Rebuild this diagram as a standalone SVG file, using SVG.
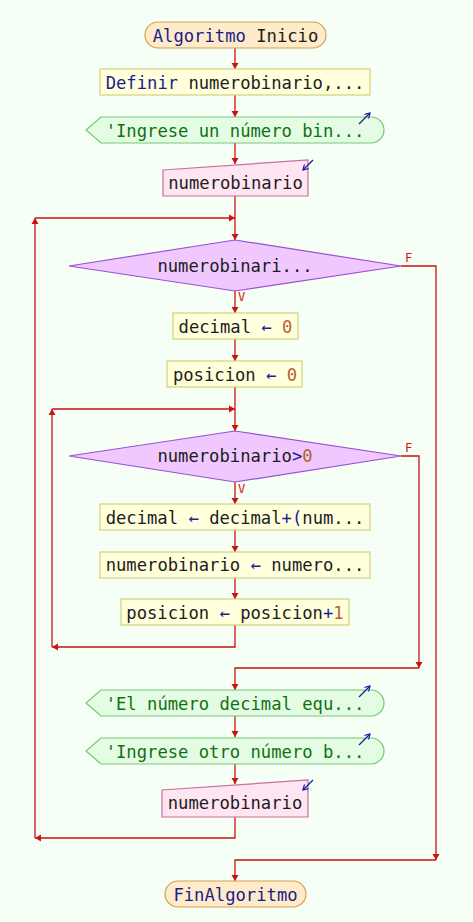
<svg xmlns="http://www.w3.org/2000/svg" width="473" height="922" viewBox="0 0 473 922">
<defs>
<style>
text{font-family:"DejaVu Sans Mono","Liberation Mono",monospace;font-size:17.2px;fill:#1c1c1c}
.term{fill:#fdebc9;stroke:#d4a050;stroke-width:1.2}
.proc{fill:#ffffdc;stroke:#d2d27a;stroke-width:1.2}
.out{fill:#e4fce4;stroke:#74c874;stroke-width:1.2}
.in{fill:#ffe4f2;stroke:#c8709c;stroke-width:1.2}
.dec{fill:#f0c8ff;stroke:#9a50d0;stroke-width:1.2}
.kw{fill:#1c1c8c}
.op{fill:#1c1c9c}
.num{fill:#b4642c}
.str{fill:#127012}
.lbl{fill:#dd1111;font-size:12px}
.icon{stroke:#1c1ca0;stroke-width:1.2;fill:none}
#connectors path{fill:none;stroke:#cc1111;stroke-width:1.3}
</style>
<marker id="ah" viewBox="0 0 6 8" refX="6" refY="4" markerWidth="6" markerHeight="8" markerUnits="userSpaceOnUse" orient="auto">
<path d="M0,0.5 L6,4 L0,7.5 z" fill="#cc1111"/>
</marker>
<marker id="ih" viewBox="0 0 6 6" refX="5" refY="3" markerWidth="6" markerHeight="6" markerUnits="userSpaceOnUse" orient="auto">
<path d="M0,0 L5,3 L0,6" fill="none" stroke="#1c1ca0" stroke-width="1.2"/>
</marker>
</defs>
<rect width="473" height="922" fill="#f6fff6"/>

<g id="connectors">
<path d="M235,48 V69" marker-end="url(#ah)"/>
<path d="M235,95 V117" marker-end="url(#ah)"/>
<path d="M235,143 V164" marker-end="url(#ah)"/>
<path d="M235,196 V240" marker-end="url(#ah)"/>
<path d="M235,817 V838 H35" marker-end="url(#ah)"/>
<path d="M35,838 V218" marker-end="url(#ah)"/>
<path d="M35,218 H235" marker-end="url(#ah)"/>
<path d="M235,291 V313" marker-end="url(#ah)"/>
<path d="M401,266 H436 V860" marker-end="url(#ah)"/>
<path d="M436,860 H235 V881" marker-end="url(#ah)"/>
<path d="M235,339 V361" marker-end="url(#ah)"/>
<path d="M235,387 V431" marker-end="url(#ah)"/>
<path d="M235,625 V647 H52" marker-end="url(#ah)"/>
<path d="M52,647 V409" marker-end="url(#ah)"/>
<path d="M52,409 H235" marker-end="url(#ah)"/>
<path d="M235,482 V504" marker-end="url(#ah)"/>
<path d="M235,530 V552" marker-end="url(#ah)"/>
<path d="M235,578 V599" marker-end="url(#ah)"/>
<path d="M401,456 H419 V668" marker-end="url(#ah)"/>
<path d="M419,668 H235 V690" marker-end="url(#ah)"/>
<path d="M235,716 V737" marker-end="url(#ah)"/>
<path d="M235,764 V784" marker-end="url(#ah)"/>
<text class="lbl" x="405" y="262">F</text>
<text class="lbl" x="238" y="301">V</text>
<text class="lbl" x="405" y="452">F</text>
<text class="lbl" x="238" y="493">V</text>
</g>

<g id="start">
<rect class="term" x="145" y="22" width="181" height="26" rx="13"/>
<text x="235.5" y="41.5" text-anchor="middle"><tspan class="kw">Algoritmo</tspan> Inicio</text>
</g>

<g id="define">
<rect class="proc" x="100" y="69" width="270" height="26"/>
<text x="235" y="88.5" text-anchor="middle"><tspan class="kw">Definir</tspan> numerobinario,...</text>
</g>

<g id="out1">
<path class="out" d="M86,130 L101,117 H371 A13,13 0 0 1 371,143 H101 Z"/>
<text class="str" x="235" y="136.5" text-anchor="middle">'Ingrese un número bin...</text>
<path class="icon" d="M359,124 L370,113" marker-end="url(#ih)"/>
</g>

<g id="in1">
<path class="in" d="M163,170 L308,160 V196 H163 Z"/>
<text x="235.5" y="188.5" text-anchor="middle">numerobinario</text>
<path class="icon" d="M313,160 L303,170" marker-end="url(#ih)"/>
</g>

<g id="dec1">
<path class="dec" d="M69,266 L235,240 L401,266 L235,291 Z"/>
<text x="235" y="272" text-anchor="middle">numerobinari...</text>
</g>

<g id="assign1">
<rect class="proc" x="173" y="313" width="125" height="26"/>
<text x="235.5" y="332.5" text-anchor="middle">decimal <tspan class="op">←</tspan> <tspan class="num">0</tspan></text>
</g>

<g id="assign2">
<rect class="proc" x="167" y="361" width="135" height="26"/>
<text x="235" y="380.5" text-anchor="middle">posicion <tspan class="op">←</tspan> <tspan class="num">0</tspan></text>
</g>

<g id="dec2">
<path class="dec" d="M69,456 L235,431 L401,456 L235,482 Z"/>
<text x="235" y="462" text-anchor="middle">numerobinario<tspan class="op">&gt;</tspan><tspan class="num">0</tspan></text>
</g>

<g id="assign3">
<rect class="proc" x="100" y="504" width="270" height="26"/>
<text x="235" y="523.5" text-anchor="middle">decimal <tspan class="op">←</tspan> decimal<tspan class="op">+(</tspan>num...</text>
</g>

<g id="assign4">
<rect class="proc" x="100" y="552" width="270" height="26"/>
<text x="235" y="571" text-anchor="middle">numerobinario <tspan class="op">←</tspan> numero...</text>
</g>

<g id="assign5">
<rect class="proc" x="121" y="599" width="228" height="26"/>
<text x="235" y="618.5" text-anchor="middle">posicion <tspan class="op">←</tspan> posicion<tspan class="op">+</tspan><tspan class="num">1</tspan></text>
</g>

<g id="out2">
<path class="out" d="M86,703 L101,690 H371 A13,13 0 0 1 371,716 H101 Z"/>
<text class="str" x="235" y="709.5" text-anchor="middle">'El número decimal equ...</text>
<path class="icon" d="M359,697 L370,686" marker-end="url(#ih)"/>
</g>

<g id="out3">
<path class="out" d="M86,751 L101,738 H371 A13,13 0 0 1 371,764 H101 Z"/>
<text class="str" x="235" y="757.5" text-anchor="middle">'Ingrese otro número b...</text>
<path class="icon" d="M359,745 L370,734" marker-end="url(#ih)"/>
</g>

<g id="in2">
<path class="in" d="M162,790 L308,780 V817 H162 Z"/>
<text x="235" y="808.5" text-anchor="middle">numerobinario</text>
<path class="icon" d="M313,780 L303,790" marker-end="url(#ih)"/>
</g>

<g id="end">
<rect class="term" x="165" y="881" width="141" height="26" rx="13"/>
<text class="kw" x="235.5" y="900.5" text-anchor="middle">FinAlgoritmo</text>
</g>
</svg>
